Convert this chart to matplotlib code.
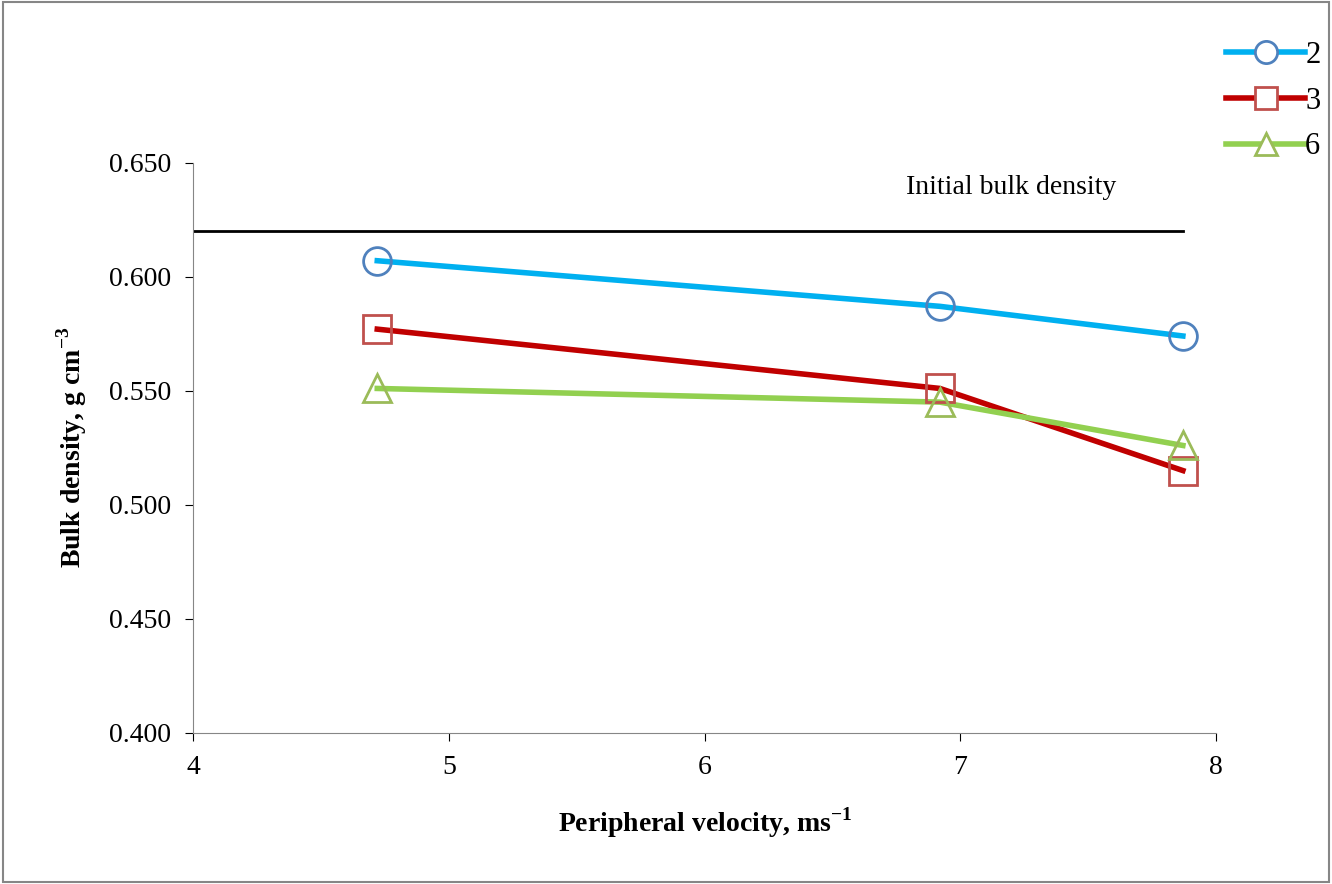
import matplotlib.pyplot as plt
from matplotlib.lines import Line2D

plt.rcParams['font.family'] = ['Liberation Serif', 'DejaVu Serif']
plt.rcParams['mathtext.fontset'] = 'custom'
plt.rcParams['mathtext.rm'] = 'Liberation Serif'
plt.rcParams['mathtext.bf'] = 'Liberation Serif:bold'

# velocity (m/s) and bulk density (g/cm3)
velocity = [4.72, 6.92, 7.87]
series_names = ['2', '3', '6']
dens_2 = [0.607, 0.587, 0.574]
dens_3 = [0.577, 0.551, 0.515]
dens_6 = [0.551, 0.545, 0.526]
initial_x = [4.0, 7.87]
initial_density = 0.620

fig = plt.figure(figsize=(13.32, 8.84), dpi=100)
ax = fig.add_axes([0.145, 0.171, 0.768, 0.645])

styles = [('#00B0F0', '#4F81BD', 'o'), ('#C00000', '#C0504D', 's'), ('#92D050', '#9BBB59', '^')]
handles = []
for vals, name, (lc, mc, mk) in zip([dens_2, dens_3, dens_6], series_names, styles):
    ax.plot(velocity, vals, color=lc, lw=4, zorder=2)
    ax.plot(velocity, vals, ls='none', marker=mk, ms=20, mfc='none', mec=mc, mew=2, zorder=3)
    handles.append(Line2D([], [], color=lc, lw=4, marker=mk, ms=16, mfc='white', mec=mc, mew=2))

ax.plot(initial_x, [initial_density] * 2, color='black', lw=2)
ax.text(7.2, 0.639, 'Initial bulk density', fontsize=20, ha='center', va='center')

ax.set_xlim(4, 8)
ax.set_ylim(0.4, 0.65)
ax.set_xticks([4, 5, 6, 7, 8])
ax.set_yticks([0.4, 0.45, 0.5, 0.55, 0.6, 0.65])
ax.set_yticklabels([f'{v:.3f}' for v in ax.get_yticks()])
ax.tick_params(labelsize=20, direction='out', length=6, pad=10)
for s in ['top', 'right']:
    ax.spines[s].set_visible(False)
for s in ['left', 'bottom']:
    ax.spines[s].set_color('#868686')

ax.set_xlabel(r'Peripheral velocity, ms$^{\mathbf{-1}}$', fontsize=20, fontweight='bold', labelpad=18)
ax.set_ylabel(r'Bulk density, g cm$^{\mathbf{-3}}$', fontsize=20, fontweight='bold', labelpad=14)

fig.legend(handles, series_names, loc='upper right', bbox_to_anchor=(1.012, 0.985),
           frameon=False, fontsize=22, handlelength=2.6, labelspacing=0.55, handletextpad=0.0)

fig.patches.append(plt.Rectangle((0.002, 0.002), 0.996, 0.996, transform=fig.transFigure,
                                 fill=False, edgecolor='#868686', lw=1.5))
fig.savefig('out.png')
